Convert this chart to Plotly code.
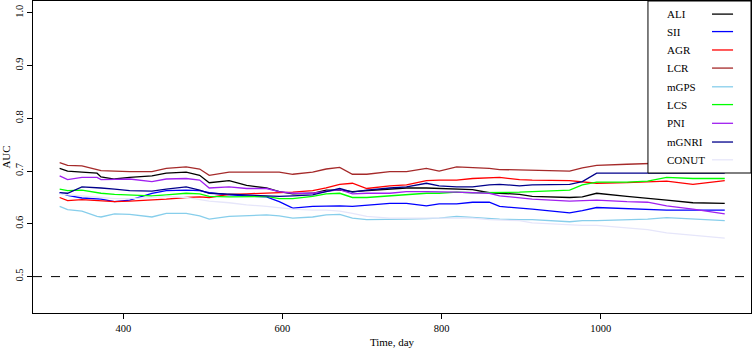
import plotly.graph_objects as go

days = [320, 330, 348, 367, 372, 389, 408, 436, 454, 479, 496, 508, 533, 555, 580, 596, 613, 638, 655, 672,
        688, 706, 735, 756, 781, 797, 819, 839, 860, 873, 898, 914, 961, 977, 995, 1033, 1059, 1083, 1116, 1156]

ALI = [0.705, 0.700, 0.698, 0.696, 0.689, 0.685, 0.688, 0.691, 0.696, 0.698, 0.692, 0.678, 0.682, 0.673, 0.668, 0.661, 0.657, 0.658, 0.664, 0.664,
       0.661, 0.663, 0.666, 0.668, 0.668, 0.667, 0.665, 0.665, 0.659, 0.658, 0.656, 0.652, 0.650, 0.651, 0.658, 0.652, 0.649, 0.645, 0.640, 0.639]
SII = [0.659, 0.654, 0.649, 0.648, 0.647, 0.642, 0.645, 0.658, 0.663, 0.664, 0.663, 0.659, 0.655, 0.653, 0.651, 0.642, 0.630, 0.633, 0.634, 0.634,
       0.633, 0.635, 0.639, 0.639, 0.634, 0.638, 0.638, 0.641, 0.641, 0.633, 0.630, 0.628, 0.621, 0.625, 0.631, 0.629, 0.627, 0.626, 0.626, 0.626]
AGR = [0.650, 0.644, 0.646, 0.644, 0.644, 0.642, 0.643, 0.645, 0.647, 0.650, 0.651, 0.650, 0.656, 0.657, 0.658, 0.658, 0.660, 0.663, 0.668, 0.675,
       0.677, 0.667, 0.672, 0.674, 0.682, 0.683, 0.683, 0.686, 0.687, 0.688, 0.684, 0.683, 0.682, 0.679, 0.677, 0.678, 0.680, 0.681, 0.675, 0.682]
LCR = [0.716, 0.711, 0.710, 0.704, 0.701, 0.700, 0.699, 0.699, 0.705, 0.708, 0.704, 0.692, 0.698, 0.698, 0.698, 0.698, 0.694, 0.698, 0.704, 0.707,
       0.694, 0.694, 0.699, 0.699, 0.705, 0.700, 0.708, 0.707, 0.705, 0.703, 0.702, 0.702, 0.700, 0.706, 0.711, 0.713, 0.714, 0.715, 0.717, 0.717]
mGPS = [0.633, 0.627, 0.624, 0.614, 0.613, 0.619, 0.618, 0.613, 0.620, 0.620, 0.615, 0.609, 0.614, 0.616, 0.617, 0.615, 0.611, 0.613, 0.617, 0.618,
        0.611, 0.608, 0.608, 0.609, 0.610, 0.611, 0.614, 0.612, 0.610, 0.609, 0.608, 0.608, 0.604, 0.606, 0.606, 0.608, 0.609, 0.612, 0.609, 0.606]
LCS = [0.666, 0.663, 0.664, 0.659, 0.658, 0.656, 0.655, 0.653, 0.655, 0.658, 0.657, 0.652, 0.651, 0.652, 0.652, 0.648, 0.648, 0.652, 0.657, 0.658,
       0.650, 0.650, 0.653, 0.655, 0.658, 0.658, 0.660, 0.659, 0.659, 0.659, 0.660, 0.661, 0.664, 0.674, 0.679, 0.679, 0.681, 0.688, 0.686, 0.686]
PNI = [0.691, 0.684, 0.688, 0.688, 0.684, 0.684, 0.685, 0.680, 0.685, 0.686, 0.683, 0.668, 0.670, 0.667, 0.667, 0.661, 0.658, 0.658, 0.661, 0.665,
       0.657, 0.658, 0.658, 0.661, 0.661, 0.660, 0.660, 0.659, 0.658, 0.653, 0.649, 0.647, 0.643, 0.644, 0.645, 0.642, 0.641, 0.634, 0.628, 0.619]
mGNRI = [0.659, 0.658, 0.670, 0.669, 0.668, 0.666, 0.663, 0.662, 0.666, 0.670, 0.664, 0.658, 0.656, 0.655, 0.653, 0.652, 0.653, 0.655, 0.661, 0.667,
         0.660, 0.664, 0.668, 0.670, 0.677, 0.672, 0.670, 0.670, 0.674, 0.675, 0.672, 0.674, 0.675, 0.680, 0.696, 0.696, 0.696, 0.696, 0.696, 0.696]
CONUT = [0.657, 0.655, 0.653, 0.650, 0.650, 0.648, 0.648, 0.650, 0.652, 0.650, 0.646, 0.643, 0.640, 0.636, 0.633, 0.630, 0.628, 0.626, 0.626, 0.624,
         0.620, 0.614, 0.611, 0.611, 0.611, 0.612, 0.611, 0.611, 0.608, 0.607, 0.606, 0.602, 0.598, 0.597, 0.597, 0.592, 0.589, 0.583, 0.578, 0.573]

names = ["ALI", "SII", "AGR", "LCR", "mGPS", "LCS", "PNI", "mGNRI", "CONUT"]
series = [ALI, SII, AGR, LCR, mGPS, LCS, PNI, mGNRI, CONUT]
colors = ["#000000", "#0000FF", "#FF0000", "#A52A2A", "#87CEEB", "#00FF00", "#A020F0", "#00008B", "#E6E6FA"]

x_ticks = [400, 600, 800, 1000]
y_ticks = [0.5, 0.6, 0.7, 0.8, 0.9, 1.0]

FONT = "Liberation Serif, Times New Roman, serif"

fig = go.Figure()
for n, s, c in zip(names, series, colors):
    fig.add_trace(go.Scatter(x=days, y=s, mode="lines", name=n,
                             line=dict(color=c, width=1.3), showlegend=False))

fig.add_hline(y=0.5, line=dict(color="black", width=1, dash="dash"))

# manual legend (text on the left, line sample on the right)
fig.add_shape(type="rect", xref="paper", yref="paper", x0=0.8565, x1=1.0, y0=0.4487, y1=1.0,
              line=dict(color="black", width=1), fillcolor="white", layer="above")
row_y = [0.958, 0.902, 0.843, 0.785, 0.725, 0.668, 0.608, 0.548, 0.491]
for n, c, yy in zip(names, colors, row_y):
    fig.add_annotation(x=0.880, y=yy, xref="paper", yref="paper", text=n, showarrow=False,
                       xanchor="left", yanchor="middle", font=dict(family=FONT, size=11, color="black"))
    fig.add_shape(type="line", xref="paper", yref="paper", x0=0.9457, x1=0.975, y0=yy, y1=yy,
                  line=dict(color=c, width=1.3), layer="above")

fig.update_layout(
    width=753, height=348,
    margin=dict(l=33, r=2, t=1, b=35),
    paper_bgcolor="white", plot_bgcolor="white",
    font=dict(family=FONT, size=11, color="black"),
    xaxis=dict(range=[286.5, 1189], tickvals=x_ticks, ticks="outside", ticklen=5, tickcolor="black",
               showline=True, mirror=True, linecolor="black", linewidth=1, showgrid=False, zeroline=False,
               tickfont=dict(family=FONT, size=10.5),
               title=dict(text="Time, day", font=dict(family=FONT, size=11), standoff=6)),
    yaxis=dict(range=[0.431, 1.0225], tickvals=y_ticks, tickformat=".1f", ticks="outside", ticklen=5, tickcolor="black",
               tickangle=-90, showline=True, mirror=True, linecolor="black", linewidth=1, showgrid=False, zeroline=False,
               tickfont=dict(family=FONT, size=10.5),
               title=dict(text="AUC", font=dict(family=FONT, size=11), standoff=4)),
)

fig.write_html("out.html", config={"displayModeBar": False},
               post_script="document.body.style.margin='0';document.body.style.padding='0';")
